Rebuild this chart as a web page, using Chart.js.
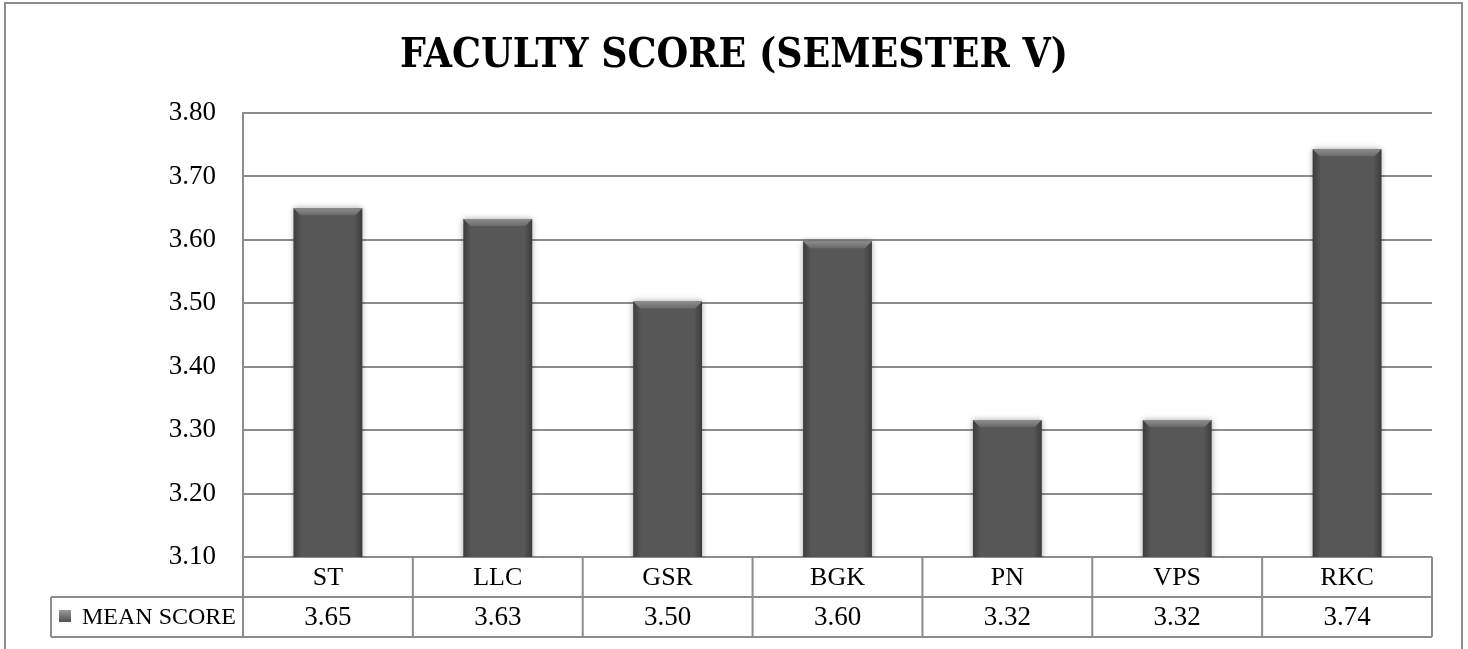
<!DOCTYPE html>
<html>
<head>
<meta charset="utf-8">
<script src="https://cdn.jsdelivr.net/npm/chart.js@4.4.1/dist/chart.umd.min.js"></script>
<style>
  html, body { margin: 0; padding: 0; background: #fff; }
  #frame {
    position: absolute; left: 4px; top: 2px; width: 1455px; height: 700px;
    border: 2px solid #8c8c8c;
  }
  #wrap { position: absolute; left: 0; top: 0; width: 1468px; height: 649px; }
</style>
</head>
<body>
<div id="frame"></div>
<div id="wrap"><canvas id="chart"></canvas></div>
<script>
// categories and values
const categories = ['ST', 'LLC', 'GSR', 'BGK', 'PN', 'VPS', 'RKC'];
const meanScore = [3.65, 3.633, 3.503, 3.598, 3.316, 3.316, 3.743];
const seriesLabel = 'MEAN SCORE';
const chartTitle = 'FACULTY SCORE (SEMESTER V)';
const yMin = 3.1, yMax = 3.8, yStep = 0.1;

const lineGray = '#8c8c8c';
const serif = "'Liberation Serif', serif";

// title: the original uses a narrow heavy serif, so squeeze DejaVu Serif Bold a bit
const titleText = {
  id: 'titleText',
  afterDraw(chart) {
    const ctx = chart.ctx;
    ctx.save();
    ctx.font = "bold 41px 'DejaVu Serif', serif";
    ctx.fillStyle = '#000';
    ctx.textAlign = 'center';
    ctx.textBaseline = 'alphabetic';
    const w = ctx.measureText(chartTitle).width;
    const sx = 668 / w;
    ctx.translate(734, 67);
    ctx.scale(sx, 1);
    ctx.fillText(chartTitle, 0, 0);
    ctx.restore();
  }
};

// the data table under the plot (category row + value row + legend cell)
const dataTable = {
  id: 'dataTable',
  afterDraw(chart) {
    const ctx = chart.ctx;
    const xs = chart.scales.x;
    const area = chart.chartArea;
    const rowH = 40;
    const top = area.bottom, mid = top + rowH, bot = mid + rowH;
    const legendLeft = 51;
    const n = categories.length;
    const colW = (area.right - area.left) / n;

    ctx.save();
    ctx.strokeStyle = lineGray;
    ctx.lineWidth = 2;
    ctx.beginPath();
    // horizontal lines
    ctx.moveTo(legendLeft, mid); ctx.lineTo(area.right, mid);
    ctx.moveTo(legendLeft, bot); ctx.lineTo(area.right, bot);
    // vertical lines
    ctx.moveTo(legendLeft, mid); ctx.lineTo(legendLeft, bot);
    for (let i = 0; i <= n; i++) {
      const x = area.left + i * colW;
      ctx.moveTo(x, top); ctx.lineTo(x, bot);
    }
    ctx.stroke();

    ctx.fillStyle = '#000';
    ctx.textAlign = 'center';
    ctx.textBaseline = 'middle';
    categories.forEach((c, i) => {
      const x = xs.getPixelForValue(i);
      ctx.font = "26px " + serif;
      ctx.fillText(c, x, top + rowH / 2 + 1);
      ctx.font = "27px " + serif;
      ctx.fillText(meanScore[i].toFixed(2), x, mid + rowH / 2 + 1);
    });

    // legend key + series name
    const g = ctx.createLinearGradient(0, mid + 13, 0, mid + 26);
    g.addColorStop(0, '#9a9a9a');
    g.addColorStop(1, '#4a4a4a');
    ctx.fillStyle = g;
    ctx.fillRect(59, mid + 13, 12, 12);
    ctx.fillStyle = '#000';
    ctx.textAlign = 'left';
    ctx.font = "24px " + serif;
    ctx.fillText(seriesLabel, 82, mid + rowH / 2 + 1);
    ctx.restore();
  }
};

// soft shadow and bevel on the bars, like the office chart style
const bevel = {
  id: 'bevel',
  beforeDatasetsDraw(chart) {
    const ctx = chart.ctx;
    ctx.save();
    ctx.shadowColor = 'rgba(0,0,0,0.35)';
    ctx.shadowBlur = 6;
  },
  afterDatasetsDraw(chart) {
    const ctx = chart.ctx;
    ctx.restore();
    const area = chart.chartArea;
    const meta = chart.getDatasetMeta(0);
    ctx.save();
    ctx.beginPath();
    ctx.rect(area.left, area.top, area.right - area.left, area.bottom - area.top);
    ctx.clip();
    meta.data.forEach(bar => {
      const l = bar.x - bar.width / 2, r = bar.x + bar.width / 2;
      const t = bar.y, b = Math.min(bar.base, area.bottom);
      const d = 7;
      // side shading
      let g = ctx.createLinearGradient(l, 0, r, 0);
      g.addColorStop(0, 'rgba(0,0,0,0.35)');
      g.addColorStop(0.12, 'rgba(0,0,0,0.05)');
      g.addColorStop(0.88, 'rgba(0,0,0,0.05)');
      g.addColorStop(1, 'rgba(0,0,0,0.35)');
      ctx.fillStyle = g;
      ctx.fillRect(l, t, r - l, b - t);
      // top bevel
      g = ctx.createLinearGradient(0, t, 0, t + d);
      g.addColorStop(0, '#8e8e8e');
      g.addColorStop(1, '#6a6a6a');
      ctx.fillStyle = g;
      ctx.beginPath();
      ctx.moveTo(l, t); ctx.lineTo(r, t);
      ctx.lineTo(r - d, t + d); ctx.lineTo(l + d, t + d);
      ctx.closePath();
      ctx.fill();
    });
    ctx.restore();
  }
};

new Chart(document.getElementById('chart'), {
  type: 'bar',
  data: {
    labels: categories,
    datasets: [{
      label: seriesLabel,
      data: meanScore,
      backgroundColor: '#5c5c5c',
      borderWidth: 0,
      barPercentage: 0.405,
      categoryPercentage: 1
    }]
  },
  options: {
    responsive: true,
    maintainAspectRatio: false,
    animation: false,
    layout: { padding: { top: 113, right: 36, bottom: 92, left: 0 } },
    scales: {
      x: { display: false },
      y: {
        min: yMin,
        max: yMax,
        afterFit: (s) => { s.width = 243; },
        ticks: {
          stepSize: yStep,
          padding: 27,
          color: '#000',
          font: { family: serif, size: 27 },
          callback: (v) => Number(v).toFixed(2)
        },
        grid: { color: lineGray, lineWidth: 2, drawTicks: false },
        border: { display: true, color: lineGray, width: 2 }
      }
    },
    plugins: {
      legend: { display: false },
      tooltip: { enabled: false },
      title: { display: false }
    }
  },
  plugins: [titleText, dataTable, bevel]
});
</script>
</body>
</html>
